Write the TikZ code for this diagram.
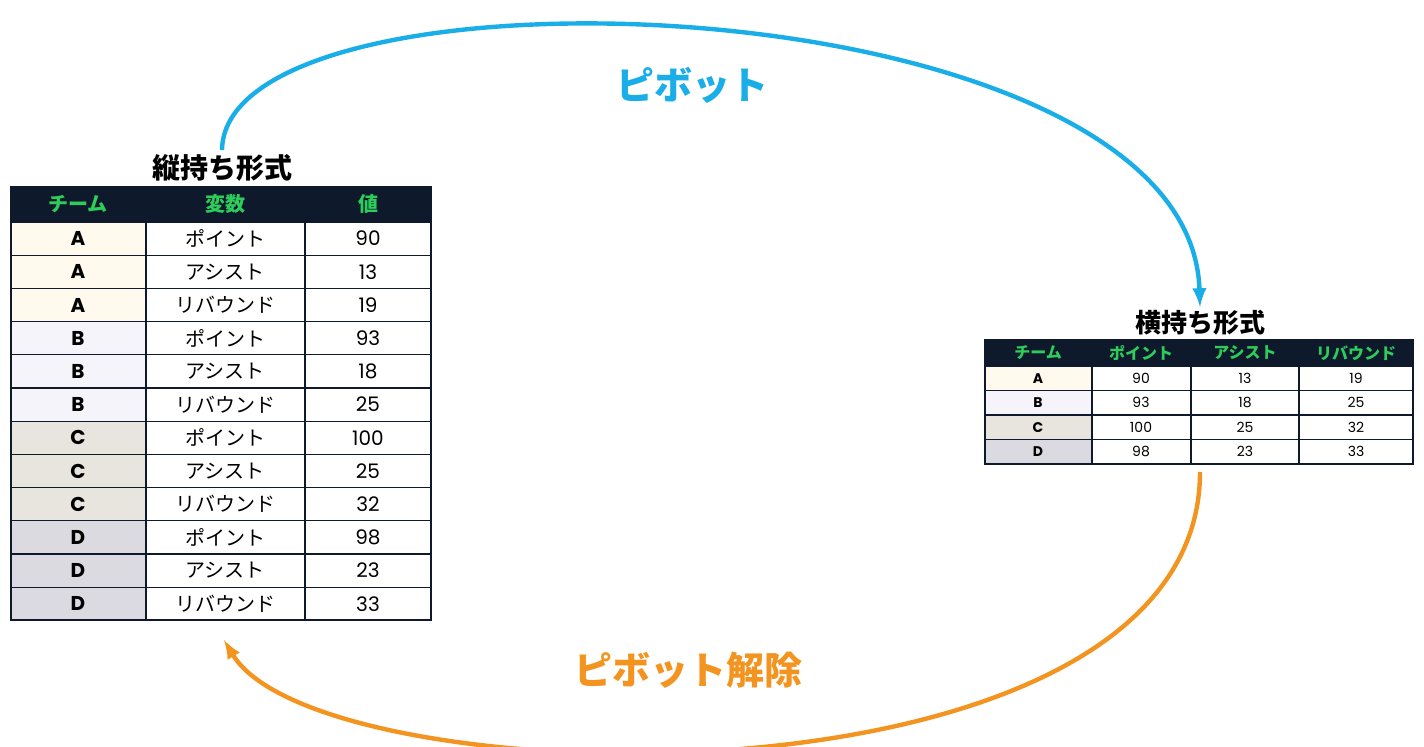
\documentclass[tikz,border=0pt]{standalone}
\usepackage{fontspec}
\setmainfont{Poppins}
\newfontfamily\jp{Noto Sans CJK JP}
\usetikzlibrary{positioning}
\definecolor{hdr}{HTML}{0E1A2B}
\definecolor{hgreen}{HTML}{2ECC5A}
\definecolor{tA}{HTML}{FFF9EE}
\definecolor{tB}{HTML}{F4F4FA}
\definecolor{tC}{HTML}{E8E5DE}
\definecolor{tD}{HTML}{DADAE0}
\definecolor{pblue}{HTML}{1AAEE8}
\definecolor{porange}{HTML}{F39420}
\begin{document}
\begin{tikzpicture}[x=0.5pt,y=-0.5pt]
    \tikzstyle{cell}=[draw=hdr,line width=0.6pt,inner sep=0pt]
    \tikzstyle{marrs}=[line width=2.2pt,-latex]
    \useasboundingbox (0,0) rectangle (1424,747);

    % vertical table
    \node[font=\jp\bfseries\fontsize{14}{14}\selectfont] (ltitle) at (222,168) {縦持ち形式};
    \fill[hdr] (11,187) rectangle (431,222);
    \foreach \t/\x in {チーム/78, 変数/225, 値/368}
        \node[text=hgreen,font=\jp\bfseries\fontsize{10}{10}\selectfont] at (\x,204) {\t};
    \foreach \i/\tm/\v/\n/\c in {0/A/ポイント/90/tA, 1/A/アシスト/13/tA, 2/A/リバウンド/19/tA,
        3/B/ポイント/93/tB, 4/B/アシスト/18/tB, 5/B/リバウンド/25/tB,
        6/C/ポイント/100/tC, 7/C/アシスト/25/tC, 8/C/リバウンド/32/tC,
        9/D/ポイント/98/tD, 10/D/アシスト/23/tD, 11/D/リバウンド/33/tD} {
        \pgfmathsetmacro\ya{222+33.2*\i}
        \pgfmathsetmacro\yb{\ya+33.2}
        \filldraw[cell,fill=\c] (11,\ya) rectangle (146,\yb);
        \draw[cell] (146,\ya) rectangle (305,\yb) (305,\ya) rectangle (431,\yb);
        \node[font=\bfseries\fontsize{10}{10}\selectfont] at (78,\ya+16.6) {\tm};
        \node[font=\jp\fontsize{10}{10}\selectfont] at (225,\ya+16.6) {\v};
        \node[font=\fontsize{10}{10}\selectfont] at (368,\ya+16.6) {\n};
    }
    \draw[hdr,line width=1pt] (11,187) rectangle (431,620);

    % wide table
    \node[font=\jp\bfseries\fontsize{13}{13}\selectfont] (rtitle) at (1200,323) {横持ち形式};
    \fill[hdr] (985,340) rectangle (1413,366);
    \foreach \t/\x in {チーム/1038, ポイント/1141, アシスト/1245, リバウンド/1356}
        \node[text=hgreen,font=\jp\bfseries\fontsize{8}{8}\selectfont] at (\x,353) {\t};
    \foreach \i/\tm/\p/\a/\r/\c in {0/A/90/13/19/tA, 1/B/93/18/25/tB, 2/C/100/25/32/tC, 3/D/98/23/33/tD} {
        \pgfmathsetmacro\ya{366+24.5*\i}
        \pgfmathsetmacro\yb{\ya+24.5}
        \filldraw[cell,fill=\c] (985,\ya) rectangle (1092,\yb);
        \draw[cell] (1092,\ya) rectangle (1191,\yb) (1191,\ya) rectangle (1299,\yb) (1299,\ya) rectangle (1413,\yb);
        \node[font=\bfseries\fontsize{7}{7}\selectfont] at (1038,\ya+12.25) {\tm};
        \foreach \n/\x in {\p/1141, \a/1245, \r/1356}
            \node[font=\fontsize{7}{7}\selectfont] at (\x,\ya+12.25) {\n};
    }
    \draw[hdr,line width=1pt] (985,340) rectangle (1413,464);

    % arrows
    \coordinate (bstart) at (222,150);
    \coordinate (bend) at (1200,307);
    \coordinate (ostart) at (1200,472);
    \coordinate (oend) at (224,640);
    \draw[marrs,pblue] (bstart) .. controls (225,-50) and (1190,-20) .. (bend);
    \draw[marrs,porange] (ostart) .. controls (1200,820) and (320,800) .. (oend);
    \node[text=pblue,font=\jp\bfseries\fontsize{19}{19}\selectfont] (pivot) at (692,85) {ピボット};
    \node[text=porange,font=\jp\bfseries\fontsize{19}{19}\selectfont] (unpivot) at (688,670) {ピボット解除};
\end{tikzpicture}
\end{document}
